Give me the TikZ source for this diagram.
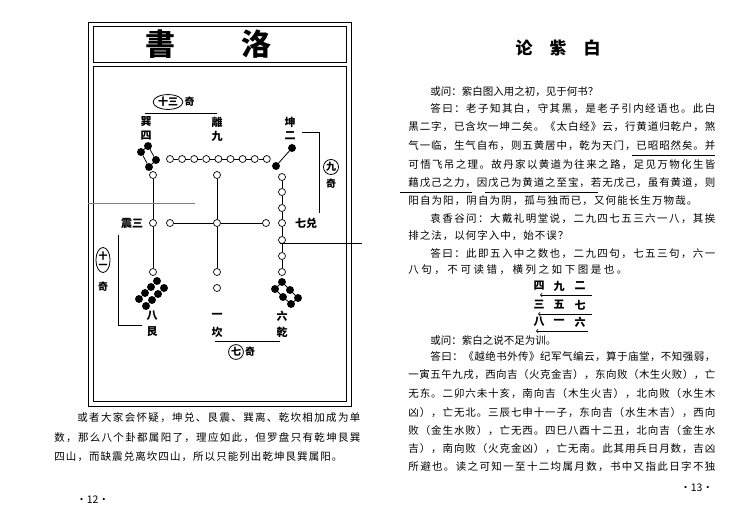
\documentclass[tikz,border=0pt]{standalone}
\usepackage{fontspec}
\setmainfont{Noto Sans CJK SC}
\usetikzlibrary{shapes.geometric}
\newlength\linew
\def\spr#1{#1\spra}
\def\spra#1{\ifx#1\relax\else\hfil#1\expandafter\spra\fi}
\newcommand\jl[2]{\setlength\linew{#1pt}\makebox[\linew][s]{\spr#2\relax}}
\tikzset{
  wdot/.style={draw,circle,fill=white,inner sep=0pt,minimum size=7pt,line width=0.7pt},
  bdot/.style={draw,circle,fill=black,inner sep=0pt,minimum size=7pt},
  txt/.style={anchor=west,inner sep=0pt,font=\fontsize{10.5}{11}\selectfont},
  lbl/.style={inner sep=0pt,font=\fontsize{11}{12}\selectfont\bfseries},
  qi/.style={inner sep=1pt,font=\fontsize{10}{11}\selectfont\bfseries},
}
\begin{document}
\begin{tikzpicture}[x=1pt,y=-1pt,line width=0.8pt]
    \useasboundingbox (0,0) rectangle (750,522);
    %% frame of the left figure
    \draw[line width=1pt] (88,22) rectangle (351,406);
    \draw (93,26) rectangle (346,62);
    \draw (93,66) rectangle (346,401);
    \node[inner sep=0pt,font=\fontsize{30}{30}\selectfont\bfseries] (shu) at (160,44) {書};
    \node[inner sep=0pt,font=\fontsize{30}{30}\selectfont\bfseries] (luo) at (256,44) {洛};
    %% trigram labels
    \node[lbl] (xun) at (146,122) {巽};
    \node[lbl] (si) at (146,136) {四};
    \node[lbl] (li) at (217,122) {離};
    \node[lbl] (jiu) at (217,136) {九};
    \node[lbl] (kun) at (290,122) {坤};
    \node[lbl] (er) at (290,136) {二};
    \node[lbl] (zhen) at (132,223) {震三};
    \node[lbl] (dui) at (306,223) {七兑};
    \node[lbl] (ba) at (152,316) {八};
    \node[lbl] (gen) at (152,332) {艮};
    \node[lbl] (yi) at (217,316) {一};
    \node[lbl] (kan) at (217,332) {坎};
    \node[lbl] (liu) at (282,316) {六};
    \node[lbl] (qian) at (282,332) {乾};
    %% four
    \node[bdot] (s1) at (148,146) {};
    \node[bdot] (s2) at (141,152) {};
    \node[bdot] (s3) at (156,160) {};
    \node[bdot] (s4) at (149,167) {};
    \draw (s1) -- (s2) -- (s4) -- (s3) -- (s1);
    %% nine
    \foreach \i in {0,...,8}
      \node[wdot] (n\i) at (170+12.1*\i,159) {};
    \foreach \i [evaluate=\i as \j using int(\i+1)] in {0,...,7}
      \draw (n\i) -- (n\j);
    %% two
    \node[bdot] (k1) at (292,148) {};
    \node[bdot] (k2) at (276,166) {};
    \draw (k1) -- (k2);
    %% three
    \node[wdot] (t1) at (153,175) {};
    \node[wdot] (t2) at (153,223) {};
    \node[wdot] (t3) at (153,272) {};
    \draw (t1) -- (t2) -- (t3);
    %% five
    \node[wdot] (c0) at (217,223) {};
    \node[wdot] (c1) at (217,175) {};
    \node[wdot] (c2) at (217,272) {};
    \node[wdot] (c3) at (170,223) {};
    \node[wdot] (c4) at (266,223) {};
    \draw (c1) -- (c0) -- (c2) (c3) -- (c0) -- (c4);
    %% one
    \node[wdot] (o1) at (217,288) {};
    %% seven
    \foreach \y [count=\i] in {177,192,208,223,240,256,272}
      \node[wdot] (v\i) at (282,\y) {};
    \foreach \i [evaluate=\i as \j using int(\i+1)] in {1,...,6}
      \draw (v\i) -- (v\j);
    %% eight
    \foreach \p [count=\i] in {(157,281),(151,287),(145,293),(139,299)}
      \node[bdot] (e\i) at \p {};
    \foreach \p [count=\i] in {(164,288),(158,294),(152,300),(146,306)}
      \node[bdot] (f\i) at \p {};
    %% six
    \node[bdot] (x1) at (282,282) {};
    \node[bdot] (x2) at (275,289) {};
    \node[bdot] (x3) at (290,290) {};
    \node[bdot] (x4) at (283,297) {};
    \node[bdot] (x5) at (298,298) {};
    \node[bdot] (x6) at (291,304) {};
    \draw (x1) -- (x2) -- (x4) -- (x6) -- (x5) -- (x3) -- (x1);
    %% odd sums
    \node[qi,draw,ellipse,inner sep=0.5pt] (q13) at (168,102) {十三};
    \node[qi,anchor=west] (q13a) at (q13.east) {奇};
    \draw[line width=0.6pt] (145,113) -- (217,113);
    \node[qi,draw,circle,inner sep=0.5pt] (q9) at (331,167) {九};
    \node[qi] (q9a) at (331,184) {奇};
    \draw[line width=0.6pt] (302,132) -- (319,132) -- (319,213);
    \node[qi,draw,ellipse,inner sep=0.5pt,align=center,font=\fontsize{9}{9}\selectfont\bfseries] (q11) at (103,260) {十\\一};
    \node[qi] (q11a) at (103,287) {奇};
    \draw[line width=0.6pt] (118,235) -- (118,325) -- (142,325);
    \node[qi,draw,circle,inner sep=0.5pt] (q7) at (236,352) {七};
    \node[qi,anchor=west] (q7a) at (q7.east) {奇};
    \draw[line width=0.6pt] (215,341) -- (280,341);
    %% scan marks
    \draw[line width=0.5pt,gray] (88,203) -- (195,203);
    \draw[line width=0.5pt] (280,243) -- (362,243);
    %% left page text
    \node[txt] (a1) at (77,418) {\jl{283}{或者大家会怀疑，坤兑、艮震、巽离、乾坎相加成为单}};
    \node[txt] (a2) at (54,438) {\jl{306}{数，那么八个卦都属阳了，理应如此，但罗盘只有乾坤艮巽}};
    \node[txt] (a3) at (54,457) {\jl{288}{四山，而缺震兑离坎四山，所以只能列出乾坤艮巽属阳。}};
    \node[txt] (p12) at (76,500) {·12·};
    %% right page
    \node[inner sep=0pt,font=\fontsize{17}{17}\selectfont\bfseries] (title) at (558,48) {论\quad 紫\quad 白};
    \node[txt] (b1) at (430,92) {\jl{140}{或问：紫白图入用之初，见于何书？}};
    \node[txt] (b2) at (430,109) {\jl{285}{答曰：老子知其白，守其黑，是老子引内经语也。此白}};
    \node[txt] (b3) at (408,127) {\jl{307}{黑二字，已含坎一坤二矣。《太白经》云，行黄道归乾户，煞}};
    \node[txt] (b4) at (408,146) {\jl{307}{气一临，生气自布，则五黄居中，乾为天门，已昭昭然矣。并}};
    \node[txt] (b5) at (408,165) {\jl{307}{可悟飞吊之理。故丹家以黄道为往来之路，足见万物化生皆}};
    \node[txt] (b6) at (408,183) {\jl{307}{藉戊己之力，因戊己为黄道之至宝，若无戊己，虽有黄道，则}};
    \node[txt] (b7) at (408,201) {\jl{289}{阳自为阳，阴自为阴，孤与独而已，又何能长生万物哉。}};
    \node[txt] (b8) at (430,219) {\jl{285}{袁香谷问：大戴礼明堂说，二九四七五三六一八，其挨}};
    \node[txt] (b9) at (408,236) {\jl{160}{排之法，以何字入中，始不误？}};
    \node[txt] (b10) at (430,254) {\jl{285}{答曰：此即五入中之数也，二九四句，七五三句，六一}};
    \node[txt] (b11) at (408,270) {\jl{219}{八句，不可读错，横列之如下图是也。}};
    \draw[line width=0.6pt] (632,155) -- (715,155);
    \draw[line width=0.6pt] (400,192) -- (472,192);
    \draw[line width=0.6pt] (485,192) -- (598,192);
    %% table
    \foreach \r/\a/\b/\c/\y in {1/四/九/二/286,2/三/五/七/305,3/八/一/六/322}{
      \node[lbl] (ta\r) at (539,\y) {\a};
      \node[lbl] (tb\r) at (559,\y) {\b};
      \node[lbl] (tc\r) at (580,\y) {\c};
    }
    \coordinate (ar1) at (592,295);
    \coordinate (ar2) at (592,314);
    \coordinate (ar3) at (588,331);
    \draw[->,line width=0.7pt] (ar1) -- (540,295);
    \draw[->,line width=0.7pt] (ar2) -- (538,314);
    \draw[->,line width=0.7pt] (ar3) -- (536,331);
    \node[txt] (b12) at (430,340) {\jl{108}{或问：紫白之说不足为训。}};
    \node[txt] (b13) at (430,357) {\jl{285}{答曰：《越绝书外传》纪军气编云，算于庙堂，不知强弱，}};
    \node[txt] (b14) at (408,375) {\jl{307}{一寅五午九戌，西向吉（火克金吉），东向败（木生火败），亡}};
    \node[txt] (b15) at (408,394) {\jl{307}{无东。二卯六未十亥，南向吉（木生火吉），北向败（水生木}};
    \node[txt] (b16) at (408,413) {\jl{307}{凶），亡无北。三辰七申十一子，东向吉（水生木吉），西向}};
    \node[txt] (b17) at (408,431) {\jl{307}{败（金生水败），亡无西。四巳八酉十二丑，北向吉（金生水}};
    \node[txt] (b18) at (408,449) {\jl{307}{吉），南向败（火克金凶），亡无南。此其用兵日月数，吉凶}};
    \node[txt] (b19) at (408,467) {\jl{307}{所避也。读之可知一至十二均属月数，书中又指此日字不独}};
    \node[txt] (p13) at (680,488) {·13·};
\end{tikzpicture}
\end{document}
